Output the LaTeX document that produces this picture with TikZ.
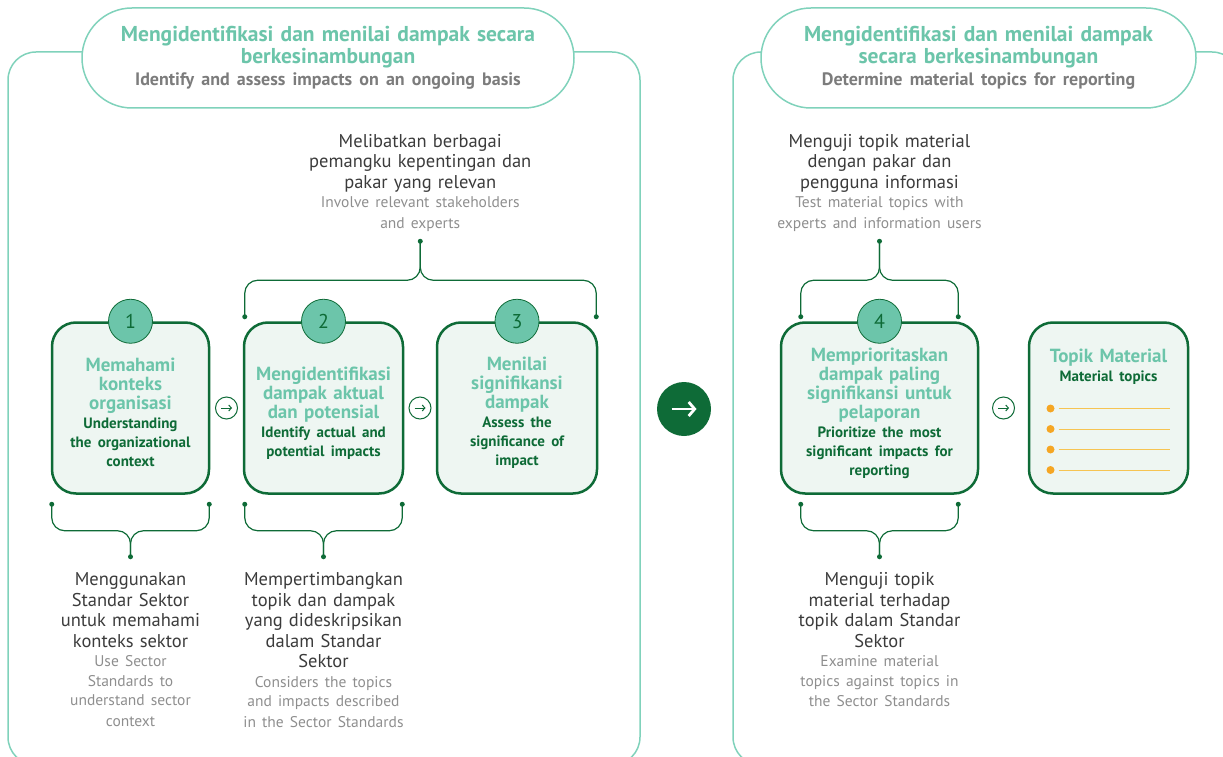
\documentclass[tikz,border=0pt]{standalone}
\usepackage{fontspec}
\setmainfont{PT Sans}
\usetikzlibrary{arrows.meta}
\usetikzlibrary{positioning}
\usetikzlibrary{calc}

\definecolor{tealmid}{HTML}{6CC5AA}
\definecolor{tealline}{HTML}{80D2BB}
\definecolor{dkgreen}{HTML}{0E6B37}
\definecolor{boxfill}{HTML}{EEF6F2}
\definecolor{txtdark}{HTML}{3B3B3B}
\definecolor{txtgray}{HTML}{8E8E8E}
\definecolor{hdrgray}{HTML}{7C7C7C}
\definecolor{dotorange}{HTML}{F5A623}
\definecolor{lineorange}{HTML}{F6C453}

\tikzset{
  stepbox/.style={draw=dkgreen, line width=2.5pt, fill=boxfill, rounded corners=24pt,
                  minimum height=171pt, inner sep=0pt},
  steptext/.style={align=center, inner sep=0pt, text width=#1,
                   font=\fontsize{19}{19}\selectfont\bfseries, text=tealmid},
  steptext/.default=150pt,
  numdot/.style={circle, draw=dkgreen, line width=0.8pt, fill=tealmid, minimum size=44pt,
                 inner sep=0pt, font=\fontsize{20}{20}\selectfont, text=dkgreen},
  nextdot/.style={circle, draw=dkgreen, line width=1pt, fill=white, minimum size=22pt, inner sep=0pt},
  hdrpill/.style={draw=tealline, line width=1.5pt, fill=white, rounded corners=50pt,
                  minimum height=100pt, align=center, inner sep=0pt, text=tealmid,
                  font=\fontsize{21.5}{22}\selectfont\bfseries},
  note/.style={align=center, anchor=north, inner sep=0pt, text=txtdark, text width=#1,
               font=\fontsize{18.5}{20.5}\selectfont},
  note/.default=200pt,
  brace/.style={dkgreen, line width=1.2pt, rounded corners=13pt},
  bdot/.style={circle, fill=dkgreen, inner sep=0pt, minimum size=5pt},
}
\newcommand\entext{\par\color{dkgreen}\fontsize{15}{19}\selectfont}
\newcommand\graytext{\par\color{txtgray}\fontsize{15.5}{19.5}\selectfont}
\newcommand\hdrtext{\par\color{hdrgray}\fontsize{18}{22}\selectfont}

\begin{document}
\begin{tikzpicture}[x=1pt, y=-1pt]
  \useasboundingbox (0,0) rectangle (1223,757);
  \clip (0,0) rectangle (1223,757);

  % the two frames
  \draw[tealline, line width=1.5pt, rounded corners=28pt] (8,52) rectangle (640,765);
  \draw[tealline, line width=1.5pt, rounded corners=28pt] (733,52) rectangle (1240,765);

  \node[hdrpill, minimum width=492pt, text width=480pt] (h1) at (328,58)
    {Mengidentifikasi dan menilai dampak secara\\berkesinambungan
     \hdrtext Identify and assess impacts on an ongoing basis};
  \node[hdrpill, minimum width=435pt, text width=425pt] (h2) at (978.5,58)
    {Mengidentifikasi dan menilai dampak\\secara berkesinambungan
     \hdrtext Determine material topics for reporting};

  % steps
  \node[stepbox, minimum width=157pt] (b1) at (130.5,408) {};
  \node[stepbox, minimum width=159pt] (b2) at (323.5,408) {};
  \node[stepbox, minimum width=160pt] (b3) at (517,408) {};
  \node[stepbox, minimum width=197pt] (b4) at (879.5,408) {};
  \node[stepbox, minimum width=159pt] (b5) at (1108.5,408) {};

  \node[steptext] (b1t) at ($(b1.center)+(0,4.5)$)
    {Memahami\\konteks\\organisasi
     \entext Understanding\\the organizational\\context};
  \node[steptext] (b2t) at ($(b2.center)+(0,5)$)
    {Mengidentifikasi\\dampak aktual\\dan potensial
     \entext Identify actual and\\potential impacts};
  \node[steptext] (b3t) at ($(b3.center)+(0,5)$)
    {Menilai\\signifikansi\\dampak
     \entext Assess the\\significance of\\impact};
  \node[steptext=190pt] (b4t) at ($(b4.center)+(0,5.5)$)
    {Memprioritaskan\\dampak paling\\signifikansi untuk\\pelaporan
     \entext Prioritize the most\\significant impacts for\\reporting};
  \node[steptext, anchor=north] (b5t) at ($(b5.north)+(0,28)$)
    {Topik Material
     \entext Material topics};
  \foreach \y [count=\i] in {408.5,429,449.5,470} {
    \node[circle, fill=dotorange, minimum size=8pt, inner sep=0pt] (m\i) at (1050.5,\y) {};
    \coordinate (me\i) at (1170,\y);
    \draw[lineorange, line width=1pt] ($(m\i.east)+(4,0)$) -- (me\i);
  }

  \node[numdot] (n1) at (b1.north) {1};
  \node[numdot] (n2) at (b2.north) {2};
  \node[numdot] (n3) at (b3.north) {3};
  \node[numdot] (n4) at (b4.north) {4};

  % arrows between the steps
  \node[nextdot] (a1) at ($(b1.east)!0.5!(b2.west)$) {};
  \node[nextdot] (a2) at ($(b2.east)!0.5!(b3.west)$) {};
  \node[nextdot] (a3) at ($(b4.east)!0.5!(b5.west)$) {};
  \foreach \a in {a1,a2,a3}
    \draw[dkgreen, line width=1pt, -{Straight Barb[length=2.6pt, width=6pt]}]
      ($(\a.center)+(-5.5,0)$) -- ($(\a.center)+(5.5,0)$);
  \node[circle, fill=dkgreen, minimum size=54pt, inner sep=0pt] (go) at (684,409) {};
  \draw[white, line width=2.8pt, -{Straight Barb[length=6pt, width=14pt]}]
    ($(go.center)+(-12.5,0)$) -- ($(go.center)+(12.5,0)$);

  % braces above
  \coordinate (u2) at ($(b2.north west)+(2,-4.5)$);
  \coordinate (u3) at ($(b3.north east)+(-2,-4.5)$);
  \coordinate (um23) at ($(b2.north)!0.5!(b3.north)+(0,-41)$);
  \node[bdot] (t23) at ($(b2.north)!0.5!(b3.north)+(0,-80)$) {};
  \draw[brace] (u2) |- (um23) -- (t23.center);
  \draw[brace] (u3) |- (um23) -- (t23.center);
  \node[bdot] at (u2) {};
  \node[bdot] at (u3) {};

  \coordinate (u4l) at ($(b4.north west)+(21,-4.5)$);
  \coordinate (u4r) at ($(b4.north east)+(-21,-4.5)$);
  \coordinate (um4) at ($(b4.north)+(0,-41)$);
  \node[bdot] (t4) at ($(b4.north)+(0,-80)$) {};
  \draw[brace] (u4l) |- (um4) -- (t4.center);
  \draw[brace] (u4r) |- (um4) -- (t4.center);
  \node[bdot] at (u4l) {};
  \node[bdot] at (u4r) {};

  % braces below
  \foreach \b/\d in {b1/1, b2/2, b4/21} {
    \coordinate (\b-l) at ($(\b.south west)+(\d,9.5)$);
    \coordinate (\b-r) at ($(\b.south east)+(-\d,9.5)$);
    \coordinate (\b-m) at ($(\b.south)+(0,36)$);
    \node[bdot] (\b-t) at ($(\b.south)+(0,62)$) {};
    \draw[brace] (\b-l) |- (\b-m) -- (\b-t.center);
    \draw[brace] (\b-r) |- (\b-m) -- (\b-t.center);
    \node[bdot] at (\b-l) {};
    \node[bdot] at (\b-r) {};
  }

  % notes
  \node[note=260pt, above=7pt of t23] (c23)
    {Melibatkan berbagai\\pemangku kepentingan dan\\pakar yang relevan
     \graytext Involve relevant stakeholders\\and experts};
  \node[note=260pt, above=7pt of t4] (c4)
    {Menguji topik material\\dengan pakar dan\\pengguna informasi
     \graytext Test material topics with\\experts and information users};
  \node[note, below=13pt of b1-t] (d1)
    {Menggunakan\\Standar Sektor\\untuk memahami\\konteks sektor
     \graytext Use Sector\\Standards to\\understand sector\\context};
  \node[note, below=13pt of b2-t] (d2)
    {Mempertimbangkan\\topik dan dampak\\yang dideskripsikan\\dalam Standar\\Sektor
     \graytext Considers the topics\\and impacts described\\in the Sector Standards};
  \node[note, below=13pt of b4-t] (d4)
    {Menguji topik\\material terhadap\\topik dalam Standar\\Sektor
     \graytext Examine material\\topics against topics in\\the Sector Standards};
\end{tikzpicture}
\end{document}
